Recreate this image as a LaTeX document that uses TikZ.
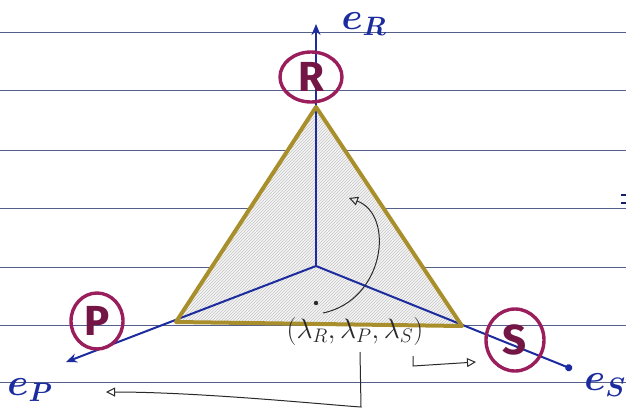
\RequirePackage{fix-cm}
\documentclass[tikz,border=0pt]{standalone}
\usepackage{fontspec}
\setsansfont{Fira Sans}
\usetikzlibrary{arrows.meta,patterns,shapes.geometric}
\definecolor{ruleblue}{HTML}{55608A}
\definecolor{axisblue}{HTML}{1C2C9E}
\definecolor{edgegold}{HTML}{A88F2C}
\definecolor{plum}{HTML}{9B1E5C}
\definecolor{ink}{HTML}{2A2A2A}
\begin{document}
\begin{tikzpicture}[x=1pt,y=-1pt,
  rule/.style={ruleblue, line width=1pt},
  axis/.style={axisblue, line width=2pt},
  edge/.style={edgegold, line width=4pt, line join=round, line cap=round},
  species/.style={ellipse, draw=plum, line width=3.4pt, text=plum!75!black,
    font=\sffamily\bfseries\fontsize{42}{42}\selectfont, inner sep=0pt},
  axlabel/.style={axisblue, font=\boldmath\fontsize{38}{38}\selectfont},
  pointer/.style={ink, line width=1pt, -{Triangle[open,length=9pt,width=9pt]}},
]
\useasboundingbox (0,0) rectangle (626,410);
\fill[white] (0,0) rectangle (626,410);
% ruled paper
\foreach \yy in {32,90,150,208,267,325,382}
  \draw[rule] (0,\yy) -- (626,\yy);
\draw[axisblue!70!black, line width=2.8pt] (621,195) -- (626,195);
\draw[axisblue!70!black, line width=2.8pt] (621,203) -- (626,203);
% triangle
\coordinate (O) at (316,266);
\coordinate (vR) at (316,107);
\coordinate (vP) at (176,322);
\coordinate (vS) at (462,326);
\fill[gray!9] (vR) -- (vP) -- (vS) -- cycle;
\fill[pattern=north east lines, pattern color=gray!45] (vR) -- (vP) -- (vS) -- cycle;
% axes
\coordinate (eR) at (316,24);
\coordinate (eP) at (66,362);
\coordinate (eS) at (572,369);
\draw[axis,-{Stealth[length=11pt,width=9pt]}] (O) -- (eR);
\draw[axis,-{Stealth[length=11pt,width=9pt]}] (O) -- (eP);
\draw[axis,-{Circle[length=7pt]}] (O) -- (eS);
% edges
\draw[edge] (vR) -- (vP) -- (vS) -- cycle;
% species circles
\node[species, minimum width=62pt, minimum height=50pt] (R) at (311,77) {R};
\node[species, minimum width=52pt, minimum height=56pt] (P) at (97,321) {P};
\node[species, minimum width=58pt, minimum height=62pt] (S) at (515,340) {S};
% axis labels
\node[axlabel] (lR) at (364,24) {$e_R$};
\node[axlabel] (lP) at (30,390) {$e_P$};
\node[axlabel] (lS) at (605,385) {$e_S$};
% point and its coordinates
\fill[ink] (316,303) circle (2.2pt);
\node[ink, font=\fontsize{28}{28}\selectfont] (coords) at (355,331)
  {$(\lambda_R,\lambda_P,\lambda_S)$};
\coordinate (cStart) at (323,313);
\coordinate (cEnd) at (349,198);
\draw[pointer] (cStart) .. controls (385,300) and (395,215) .. (cEnd);
\coordinate (sFoot) at (413,356);
\coordinate (sEnd) at (476,362);
\draw[pointer] (sFoot) -- (413,366) -- (sEnd);
\coordinate (pFoot) at (360,352);
\coordinate (pEnd) at (106,392);
\draw[pointer] (pFoot) -- (361,407) .. controls (330,405) and (200,392) .. (pEnd);
\end{tikzpicture}
\end{document}
